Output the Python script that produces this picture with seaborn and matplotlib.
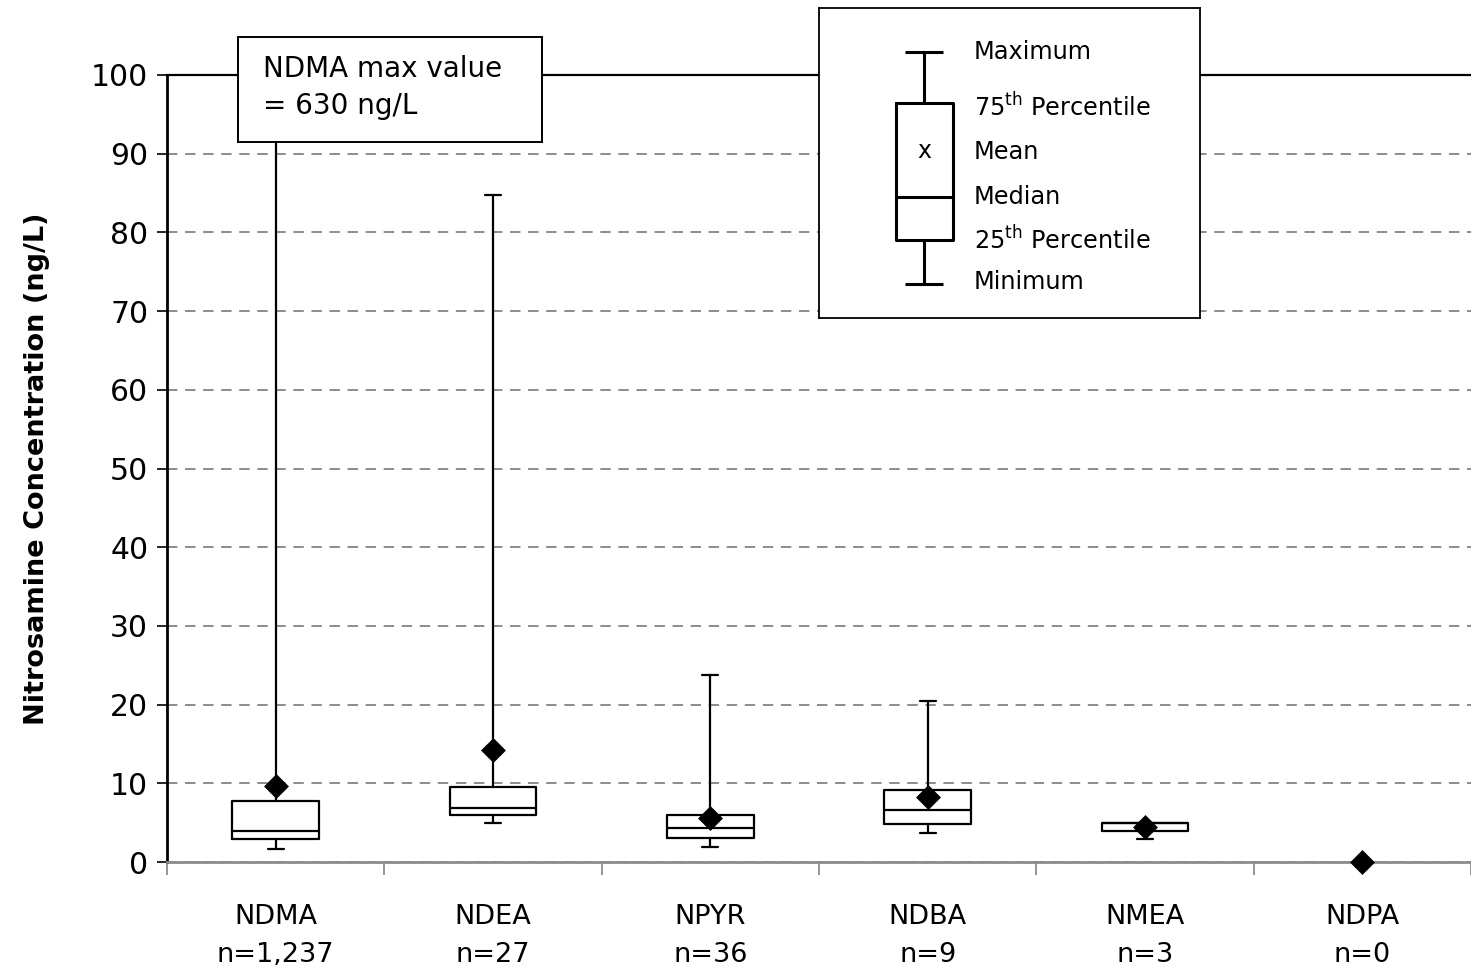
import numpy as np
import pandas as pd
import matplotlib
matplotlib.use("Agg")
import matplotlib.pyplot as plt
import seaborn as sns
from matplotlib.patches import Rectangle

# Summary statistics per nitrosamine (ng/L)
compounds = ["NDMA", "NDEA", "NPYR", "NDBA", "NMEA", "NDPA"]
sample_counts = ["1,237", "27", "36", "9", "3", "0"]
minimum = [1.7, 5.0, 1.9, 3.7, 2.9, np.nan]
q1 = [2.9, 6.0, 3.1, 4.8, 4.0, np.nan]
median = [4.0, 6.9, 4.3, 6.6, 4.95, np.nan]
q3 = [7.8, 9.5, 6.0, 9.2, 4.95, np.nan]
maximum = [630.0, 84.8, 23.7, 20.5, 4.95, np.nan]
mean = [9.6, 14.2, 5.6, 8.3, 4.5, 0.0]
y_ticks = list(range(0, 101, 10))

sns.set_theme(style="white")
plt.rcParams["font.family"] = ["DejaVu Sans"]
plt.rcParams["text.color"] = "black"
plt.rcParams["mathtext.default"] = "regular"
plt.rcParams["lines.scale_dashes"] = False

W, H = 1471, 969
fig = plt.figure(figsize=(W / 100, H / 100), dpi=100)
ax = fig.add_axes([167 / W, 1 - 862 / H, (W - 167) / W, (862 - 75) / H])

# Mean values as black diamonds
df_mean = pd.DataFrame({"compound": compounds, "mean": mean})
sns.stripplot(data=df_mean, x="compound", y="mean", order=compounds,
              jitter=False, marker="D", size=12.7, color="black",
              linewidth=0, zorder=6, clip_on=False, ax=ax)

# Box-and-whisker from min / quartiles / max
stats = []
for i, name in enumerate(compounds):
    if np.isnan(q1[i]):
        continue
    stats.append(dict(label=name, whislo=minimum[i], q1=q1[i], med=median[i],
                      q3=q3[i], whishi=maximum[i], fliers=[]))
line_kw = dict(color="black", linewidth=1.6)
ax.bxp(stats, positions=list(range(len(stats))), widths=0.40, capwidths=0.075,
       showfliers=False, manage_ticks=False, boxprops=line_kw,
       whiskerprops=line_kw, capprops=line_kw, medianprops=line_kw)

ax.set_xlim(-0.5, len(compounds) - 0.5)
ax.set_ylim(0, 100)
ax.set_yticks(y_ticks)
ax.set_yticklabels([str(t) for t in y_ticks])
ax.yaxis.grid(True, color="#8c8c8c", linestyle=(0, (7.5, 5.5)), linewidth=1.4)
ax.xaxis.grid(False)
ax.set_axisbelow(True)

for side in ["left", "top"]:
    ax.spines[side].set_visible(True)
    ax.spines[side].set_color("black")
ax.spines["left"].set_linewidth(2.0)
ax.spines["top"].set_linewidth(1.6)
ax.spines["bottom"].set_color("#8c8c8c")
ax.spines["bottom"].set_linewidth(2.0)
ax.spines["right"].set_visible(False)

ax.tick_params(axis="y", which="major", direction="out", left=True, length=7.5,
               width=1.2, color="black", labelsize=21.5, pad=6, labelcolor="black")
ax.set_xticks(range(len(compounds)))
ax.set_xticklabels([f"{c}\nn={n}" for c, n in zip(compounds, sample_counts)],
                   fontsize=19.5, linespacing=1.6, color="black")
ax.tick_params(axis="x", which="major", length=0, pad=30)
ax.set_xticks(np.arange(-0.5, len(compounds), 1), minor=True)
ax.tick_params(axis="x", which="minor", direction="out", bottom=True, length=9,
               width=1.3, color="#8c8c8c")

ax.set_xlabel("")
ax.set_ylabel("Nitrosamine Concentration (ng/L)", fontsize=19.5, fontweight="bold",
              color="black")
ax.yaxis.set_label_coords(-0.09, 0.5)

# Call-out for the off-scale NDMA maximum
ax.add_patch(Rectangle((238 / W, 1 - 142 / H), (542 - 238) / W, (142 - 37) / H,
                       transform=fig.transFigure, facecolor="white",
                       edgecolor="black", linewidth=1.4, zorder=20, clip_on=False))
ax.text(263 / W, 1 - 69 / H, f"{compounds[0]} max value", transform=fig.transFigure,
        fontsize=20, va="center", ha="left", zorder=21, color="black")
ax.text(263 / W, 1 - 106 / H, f"= {maximum[0]:.0f} ng/L", transform=fig.transFigure,
        fontsize=20, va="center", ha="left", zorder=21, color="black")

# Key explaining the box-plot elements
kx0, ky0, kx1, ky1 = 819, 8, 1200, 318
key = fig.add_axes([kx0 / W, 1 - ky1 / H, (kx1 - kx0) / W, (ky1 - ky0) / H])
key.set_xlim(0, kx1 - kx0)
key.set_ylim(ky1 - ky0, 0)
key.set_xticks([])
key.set_yticks([])
key.set_facecolor("white")
for s in key.spines.values():
    s.set_visible(True)
    s.set_color("black")
    s.set_linewidth(1.3)

cx = 105
kw = dict(color="black", linewidth=2.2, solid_capstyle="butt")
key.plot([86, 124], [44, 44], **kw)
key.plot([cx, cx], [44, 95], **kw)
key.plot([77, 134, 134, 77, 77], [95, 95, 232, 232, 95], color="black", linewidth=2.2)
key.plot([77, 134], [189, 189], **kw)
key.plot([cx, cx], [232, 276], **kw)
key.plot([86, 124], [276, 276], **kw)
key.text(cx, 143, "x", ha="center", va="center", fontsize=17, color="black")

key_labels = ["Maximum", "75$^{th}$ Percentile", "Mean", "Median",
              "25$^{th}$ Percentile", "Minimum"]
key_y = [44, 99, 144, 189, 232, 274]
for lab, yy in zip(key_labels, key_y):
    key.text(155, yy, lab, ha="left", va="center", fontsize=17.3, color="black")

fig.savefig("out.png", dpi=100)
